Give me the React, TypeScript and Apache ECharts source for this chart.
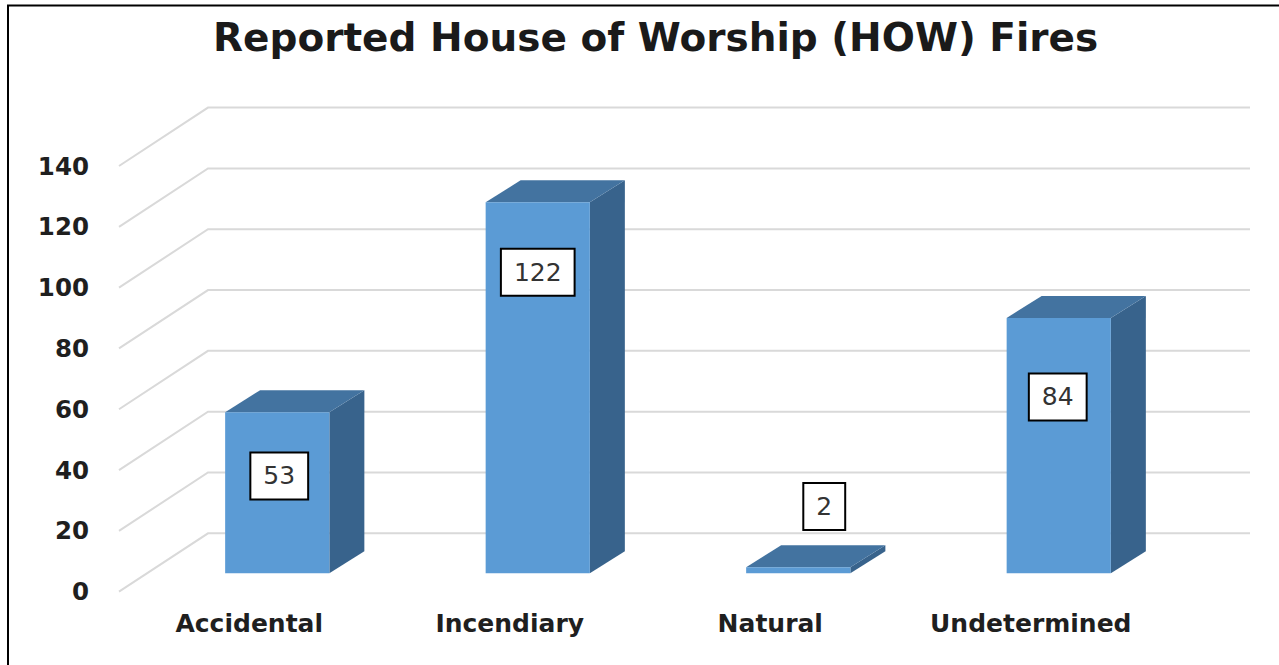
import React, { useEffect, useRef } from "react";
import * as echarts from "echarts";

// ---- data ----
const CATEGORIES = ["Accidental", "Incendiary", "Natural", "Undetermined"];
const VALUES = [53, 122, 2, 84];
const Y_TICKS = [0, 20, 40, 60, 80, 100, 120, 140];
const TITLE = "Reported House of Worship (HOW) Fires";

// ---- layout constants (where Excel placed each data label) ----
const LABEL_LEVEL = [32, 99, 22, 58]; // value-units height of label centre
const LABEL_SHIFT_X = [2, 0, 26, -1]; // px shift of label centre

// 3D projection constants
const WALL_DX = 89;
const WALL_DY = -58.4;
const BAR_FX = 28;
const BAR_FY = -18.4;
const BAR_DX = 35;
const BAR_DY = -22;

const FONT = "'DejaVu Sans', Verdana, sans-serif";

export default function App() {
  const ref = useRef<HTMLDivElement>(null);

  useEffect(() => {
    if (!ref.current) return;
    const chart = echarts.init(ref.current, null, { renderer: "svg" });

    const gridData = Y_TICKS.map((v) => [0, v]);
    const barData = VALUES.map((v, i) => [i, v]);

    const option: any = {
      animation: false,
      backgroundColor: "#ffffff",
      title: {
        text: TITLE,
        left: 208,
        top: 13,
        textStyle: {
          fontFamily: FONT,
          fontWeight: "bold",
          fontSize: 39,
          color: "#1a1a1a",
        },
      },
      grid: { left: 119, right: 118, top: 166, bottom: 73.3, containLabel: false },
      xAxis: {
        type: "category",
        data: CATEGORIES,
        boundaryGap: true,
        axisLine: { show: false },
        axisTick: { show: false },
        splitLine: { show: false },
        axisLabel: {
          interval: 0,
          hideOverlap: false,
          margin: 19,
          fontFamily: FONT,
          fontWeight: "bold",
          fontSize: 25,
          color: "#1f1f1f",
        },
      },
      yAxis: {
        type: "value",
        min: 0,
        max: 140,
        interval: 20,
        axisLine: { show: false },
        axisTick: { show: false },
        splitLine: { show: false },
        axisLabel: {
          margin: 30,
          fontFamily: FONT,
          fontWeight: "bold",
          fontSize: 24.5,
          color: "#1f1f1f",
        },
      },
      graphic: [
        {
          type: "line",
          shape: { x1: 7, y1: 5.5, x2: 1279, y2: 5.5 },
          style: { stroke: "#000", lineWidth: 2 },
        },
        {
          type: "line",
          shape: { x1: 8, y1: 5, x2: 8, y2: 665 },
          style: { stroke: "#000", lineWidth: 2 },
        },
      ],
      series: [
        {
          type: "custom",
          z: 1,
          silent: true,
          encode: { x: 0, y: 1 },
          data: gridData,
          renderItem: (params: any, api: any) => {
            const cs = params.coordSys;
            const y = api.coord([0, api.value(1)])[1];
            return {
              type: "polyline",
              shape: {
                points: [
                  [cs.x, y],
                  [cs.x + WALL_DX, y + WALL_DY],
                  [cs.x + cs.width + WALL_DX, y + WALL_DY],
                ],
              },
              style: { stroke: "#d9d9d9", lineWidth: 2, fill: null },
            };
          },
        },
        {
          type: "custom",
          z: 5,
          silent: true,
          encode: { x: 0, y: 1 },
          data: barData,
          renderItem: (params: any, api: any) => {
            const idx = api.value(0);
            const v = api.value(1);
            const base = api.coord([idx, 0]);
            const top = api.coord([idx, v]);
            const band = api.size([1, 0])[0];
            const w = band * 0.4;
            const xL = base[0] - w / 2 + BAR_FX;
            const xR = xL + w;
            const yB = base[1] + BAR_FY;
            const yT = top[1] + BAR_FY;
            const ly = api.coord([idx, LABEL_LEVEL[idx]])[1] + BAR_FY;
            const lx = (xL + xR) / 2 + LABEL_SHIFT_X[idx];
            return {
              type: "group",
              children: [
                {
                  type: "polygon",
                  shape: { points: [[xR, yB], [xR + BAR_DX, yB + BAR_DY], [xR + BAR_DX, yT + BAR_DY], [xR, yT]] },
                  style: { fill: "#38638C" },
                },
                {
                  type: "polygon",
                  shape: { points: [[xL, yT], [xR, yT], [xR + BAR_DX, yT + BAR_DY], [xL + BAR_DX, yT + BAR_DY]] },
                  style: { fill: "#4373A0" },
                },
                {
                  type: "polygon",
                  shape: { points: [[xL, yB], [xR, yB], [xR, yT], [xL, yT]] },
                  style: { fill: "#5B9BD5" },
                },
                {
                  type: "text",
                  x: lx,
                  y: ly,
                  style: {
                    text: String(v),
                    fontFamily: FONT,
                    fontSize: 25,
                    fill: "#333333",
                    align: "center",
                    verticalAlign: "middle",
                    backgroundColor: "#ffffff",
                    borderColor: "#000000",
                    borderWidth: 2,
                    padding: [10, 12, 10, 12],
                  },
                },
              ],
            };
          },
        },
      ],
    };

    chart.setOption(option);
    return () => chart.dispose();
  }, []);

  return (
    <div
      ref={ref}
      style={{ position: "fixed", left: 0, top: 0, width: 1279, height: 665, background: "#fff" }}
    />
  );
}
